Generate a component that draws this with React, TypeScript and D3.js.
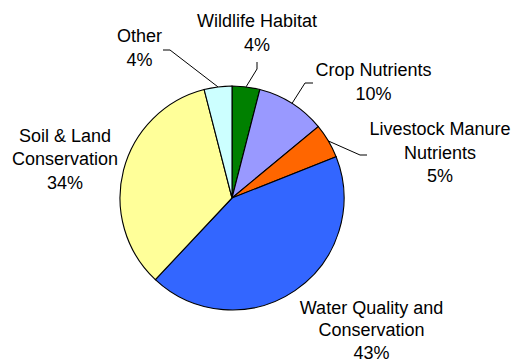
import React from "react";
import * as d3 from "d3";

const categories = [
  "Wildlife Habitat",
  "Crop Nutrients",
  "Livestock Manure Nutrients",
  "Water Quality and Conservation",
  "Soil & Land Conservation",
  "Other",
];
const values = [4, 10, 5, 43, 34, 4];
const labelLines = [
  ["Wildlife Habitat"],
  ["Crop Nutrients"],
  ["Livestock Manure", "Nutrients"],
  ["Water Quality and", "Conservation"],
  ["Soil & Land", "Conservation"],
  ["Other"],
];

const colors = ["#008000", "#9999FF", "#FF6600", "#3366FF", "#FFFF99", "#CCFFFF"];

// layout: label center x, first baseline y, line height, leader elbow points (null = no leader)
const labelLayout = [
  { x: 257, y: 27, lh: 23.6, leader: [[257, 62], [257, 69]] },
  { x: 373.5, y: 76, lh: 23.6, leader: [[313, 83], [305, 83]] },
  { x: 440, y: 135, lh: 23.6, leader: [[367, 155], [360, 155]] },
  { x: 371.5, y: 313.5, lh: 22.8, leader: null },
  { x: 65, y: 141.5, lh: 23.6, leader: null },
  { x: 139.5, y: 42, lh: 23.6, leader: [[163, 50], [170, 50]] },
];

const W = 521;
const H = 364;
const cx = 232;
const cy = 198;
const R = 112;

export default function App() {
  const pie = d3
    .pie<number>()
    .sort(null)
    .value((d) => d)
    .startAngle(0)
    .endAngle(2 * Math.PI);
  const arcs = pie(values);
  const arc = d3.arc<d3.PieArcDatum<number>>().innerRadius(0).outerRadius(R);
  const total = d3.sum(values);

  return (
    <svg
      width={W}
      height={H}
      style={{ position: "absolute", left: 0, top: 0, background: "#fff" }}
      fontFamily="'Liberation Sans', Arial, sans-serif"
      fontSize={18}
    >
      <g transform={`translate(${cx},${cy})`}>
        {arcs.map((a, i) => (
          <path key={i} d={arc(a) || ""} fill={colors[i]} stroke="#000" strokeWidth={1.1} />
        ))}
      </g>
      {arcs.map((a, i) => {
        const lay = labelLayout[i];
        if (!lay.leader) return null;
        const mid = (a.startAngle + a.endAngle) / 2;
        const px = cx + R * Math.sin(mid);
        const py = cy - R * Math.cos(mid);
        const pts = [...lay.leader, [px, py]];
        return (
          <polyline
            key={"l" + i}
            points={pts.map((p) => p.join(",")).join(" ")}
            fill="none"
            stroke="#000"
            strokeWidth={1}
          />
        );
      })}
      {arcs.map((a, i) => {
        const lay = labelLayout[i];
        const pct = Math.round((values[i] / total) * 100) + "%";
        const lines = [...labelLines[i], pct];
        return (
          <text key={"t" + i} textAnchor="middle" fill="#000">
            {lines.map((ln, j) => (
              <tspan key={j} x={lay.x} y={lay.y + j * lay.lh}>
                {ln}
              </tspan>
            ))}
          </text>
        );
      })}
    </svg>
  );
}
